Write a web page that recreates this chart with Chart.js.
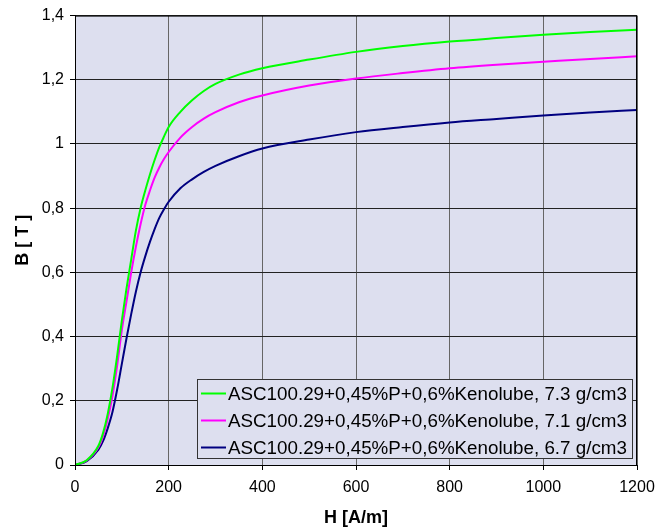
<!DOCTYPE html>
<html>
<head>
<meta charset="utf-8">
<script src="https://cdn.jsdelivr.net/npm/chart.js@4.4.0/dist/chart.umd.min.js"></script>
<style>
  html, body { margin: 0; padding: 0; background: #fff; }
  #wrap { width: 670px; height: 531px; }
</style>
</head>
<body>
<div id="wrap"><canvas id="my-chart" width="670" height="531"></canvas></div>
<script>
// H [A/m] sample points
let hValues = [0, 25, 50, 60, 70, 80, 90, 100, 110, 120, 130, 140, 150, 160, 170, 180, 190, 200,
               225, 250, 275, 300, 350, 400, 500, 600, 700, 800, 900, 1000, 1100, 1200];

// B [T] per density
let b73 = [0, 0.015, 0.06, 0.10, 0.16, 0.24, 0.34, 0.45, 0.55, 0.64, 0.73, 0.80, 0.855, 0.905, 0.95, 0.99, 1.023, 1.053,
           1.10, 1.136, 1.165, 1.187, 1.216, 1.236, 1.263, 1.287, 1.305, 1.319, 1.330, 1.340, 1.349, 1.356];
let b71 = [0, 0.014, 0.055, 0.09, 0.145, 0.215, 0.31, 0.42, 0.51, 0.60, 0.68, 0.75, 0.81, 0.855, 0.895, 0.927, 0.953, 0.975,
           1.02, 1.053, 1.079, 1.099, 1.130, 1.151, 1.182, 1.204, 1.221, 1.236, 1.247, 1.256, 1.265, 1.273];
let b67 = [0, 0.012, 0.048, 0.075, 0.115, 0.165, 0.235, 0.315, 0.395, 0.47, 0.54, 0.60, 0.65, 0.695, 0.735, 0.77, 0.797, 0.82,
           0.862, 0.89, 0.913, 0.932, 0.962, 0.986, 1.014, 1.037, 1.053, 1.067, 1.078, 1.089, 1.098, 1.106];

let seriesLabels = [
    'ASC100.29+0,45%P+0,6%Kenolube, 7.3 g/cm3',
    'ASC100.29+0,45%P+0,6%Kenolube, 7.1 g/cm3',
    'ASC100.29+0,45%P+0,6%Kenolube, 6.7 g/cm3'
];
let seriesColors = ['#00ff00', '#ff00ff', '#000080'];

let xTicks = [0, 200, 400, 600, 800, 1000, 1200];
let yTicks = [0, 0.2, 0.4, 0.6, 0.8, 1, 1.2, 1.4];

let fontFamily = '"Liberation Sans", Arial, sans-serif';

function toPoints(ys) {
    let pts = [];
    for (let i = 0; i < hValues.length; i++) {
        pts.push({ x: hValues[i], y: ys[i] });
    }
    return pts;
}

let allSeries = [b73, b71, b67];
let datasets = [];
for (let i = 0; i < allSeries.length; i++) {
    datasets.push({
        label: seriesLabels[i],
        data: toPoints(allSeries[i]),
        borderColor: seriesColors[i],
        backgroundColor: seriesColors[i],
        borderWidth: 2,
        pointRadius: 0,
        cubicInterpolationMode: 'monotone',
        fill: false
    });
}

// plot background + frame + legend box drawn inside the plot
let plotDecor = {
    id: 'plotDecor',
    beforeDraw: function(chart) {
        let a = chart.chartArea;
        let ctx = chart.ctx;
        ctx.save();
        ctx.fillStyle = '#dddfef';
        ctx.fillRect(a.left, a.top, a.right - a.left, a.bottom - a.top);
        ctx.restore();
    },
    afterDraw: function(chart) {
        let a = chart.chartArea;
        let ctx = chart.ctx;
        ctx.save();
        ctx.strokeStyle = '#000';
        ctx.lineWidth = 1;
        ctx.strokeRect(a.left + 0.5, a.top + 0.5, a.right - a.left - 1, a.bottom - a.top);

        // legend
        let bx = 197.5, by = 379.5, bw = 435, bh = 79;
        ctx.fillStyle = '#dddfef';
        ctx.fillRect(bx, by, bw, bh);
        ctx.strokeStyle = '#333';
        ctx.strokeRect(bx, by, bw, bh);
        ctx.font = '18.8px ' + fontFamily;
        ctx.textBaseline = 'middle';
        ctx.textAlign = 'left';
        let rows = [393.5, 420.5, 447.5];
        chart.data.datasets.forEach(function(ds, i) {
            ctx.strokeStyle = ds.borderColor;
            ctx.lineWidth = 2;
            ctx.beginPath();
            ctx.moveTo(201, rows[i]);
            ctx.lineTo(226, rows[i]);
            ctx.stroke();
            ctx.fillStyle = '#000';
            ctx.fillText(ds.label, 228, rows[i] + 1);
        });
        ctx.restore();
    }
};

let ctx = document.getElementById('my-chart').getContext('2d');

let myChart = new Chart(ctx, {
    type: 'line',
    data: { datasets: datasets },
    options: {
        responsive: false,
        animation: false,
        layout: { padding: { top: 13, right: 33, left: 0, bottom: 0 } },
        plugins: {
            legend: { display: false },
            tooltip: { enabled: false }
        },
        scales: {
            x: {
                type: 'linear',
                min: 0,
                max: 1200,
                afterBuildTicks: function(scale) {
                    scale.ticks = xTicks.map(function(v) { return { value: v }; });
                },
                afterFit: function(scale) { scale.height = 66; },
                ticks: {
                    color: '#000',
                    padding: 8,
                    maxRotation: 0,
                    font: { family: fontFamily, size: 16 },
                    callback: function(v) { return String(v); }
                },
                grid: { color: '#666', lineWidth: 1, tickLength: 5, tickColor: '#000' },
                border: { color: '#000' },
                title: {
                    display: true,
                    text: 'H [A/m]',
                    color: '#000',
                    padding: { top: 2, bottom: 2 },
                    font: { family: fontFamily, size: 18, weight: 'bold' }
                }
            },
            y: {
                min: 0,
                max: 1.4,
                afterBuildTicks: function(scale) {
                    scale.ticks = yTicks.map(function(v) { return { value: v }; });
                },
                afterFit: function(scale) { scale.width = 75; },
                ticks: {
                    color: '#000',
                    padding: 6,
                    font: { family: fontFamily, size: 16 },
                    callback: function(v) {
                        return String(Math.round(v * 10) / 10).replace('.', ',');
                    }
                },
                grid: { color: '#222', lineWidth: 1, tickLength: 5, tickColor: '#000' },
                border: { color: '#000' },
                title: {
                    display: true,
                    text: 'B [ T ]',
                    color: '#000',
                    padding: { top: 12, bottom: 0 },
                    font: { family: fontFamily, size: 18, weight: 'bold' }
                }
            }
        }
    },
    plugins: [plotDecor]
});
</script>
</body>
</html>
